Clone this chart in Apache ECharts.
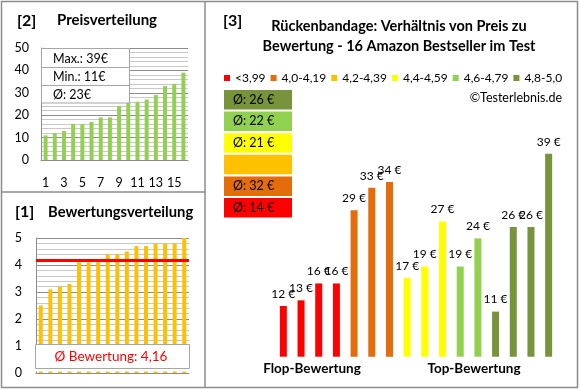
<!DOCTYPE html>
<html><head><meta charset="utf-8">
<script src="https://cdn.jsdelivr.net/npm/echarts@6/dist/echarts.min.js"></script>
<style>html,body{margin:0;padding:0;background:#fff}#c{width:580px;height:390px}</style>
</head><body><div id="c"></div>
<script>
// ---- data ----
const prices  = [12, 13, 16, 16, 29, 33, 34, 17, 19, 27, 19, 24, 11, 26, 26, 39];
const ratings = [2.5, 3.1, 3.2, 3.3, 4.1, 4.1, 4.1, 4.4, 4.4, 4.5, 4.7, 4.7, 4.8, 4.8, 4.8, 5.0];
const groupNames  = ['<3,99', '4,0-4,19', '4,2-4,39', '4,4-4,59', '4,6-4,79', '4,8-5,0'];
const groupLimits = [0, 4.0, 4.2, 4.4, 4.6, 4.8];
const groupColors = ['#FF0000', '#E46C0A', '#FFC000', '#FFFF00', '#92D050', '#77933C'];
const rankLabels  = ['1','2','3','4','5','6','7','8','9','10','11','12','13','14','15','16'];
const priceTicks  = [0, 10, 20, 30, 40, 50];
const ratingTicks = [0, 1, 2, 3, 4, 5];

// ---- derived ----
const FF = 'Lato, "DejaVu Sans", sans-serif';
const sortedPrices = prices.slice().sort((a,b)=>a-b);
const sortedRatings = ratings.slice().sort((a,b)=>a-b);
const groupOf = r => { let g = 0; groupLimits.forEach((l,i)=>{ if (r >= l - 1e-9) g = i; }); return g; };
const groups = ratings.map(groupOf);
const maxP = Math.max(...prices), minP = Math.min(...prices);
const avgP = Math.round(prices.reduce((a,b)=>a+b,0)/prices.length);
const avgR = ratings.reduce((a,b)=>a+b,0)/ratings.length;
const groupAvg = groupNames.map((n,g)=>{ const v = prices.filter((p,i)=>groups[i]===g); return v.length ? Math.round(v.reduce((a,b)=>a+b,0)/v.length) : null; });

const chart = echarts.init(document.getElementById('c'), null, {renderer:'canvas'});

const seriesR = groupNames.map((name,g)=>({
  name, type:'bar', xAxisIndex:2, yAxisIndex:2, stack:'p', barWidth:7,
  itemStyle:{color:groupColors[g]},
  data: prices.map((p,i)=> groups[i]===g ? p : '-'),
  label:{show:true, position:'top', distance:6, formatter:'{c} €', color:'#000', fontSize:12, fontFamily:FF}
}));

const boxEls = [];
const boxX = 224, boxW = 68, boxTop = 90, boxPitch = 21.6, boxH = 19.5;
for (let k = 0; k < groupNames.length; k++) {
  const g = groupNames.length - 1 - k;
  const y = boxTop + k*boxPitch;
  boxEls.push({type:'rect', shape:{x:boxX, y:y, width:boxW, height:boxH}, style:{fill:groupColors[g]}, z:20});
  if (groupAvg[g] !== null) boxEls.push({type:'text', x:boxX+9, y:y+boxH/2, style:{text:'Ø: '+groupAvg[g]+' €', fill:'#000', font:'12.5px '+FF, textVerticalAlign:'middle'}, z:21});
}

const grayLine = '#8c8c8c';
const option = {
  animation:false,
  textStyle:{fontFamily:FF},
  grid:[
    {left:41, top:48, width:147, height:112},
    {left:36, top:238, width:153, height:135},
    {left:274.5, top:120, width:283, height:236.7}
  ],
  legend:{
    data:groupNames, left:224, top:72, width:350, padding:0, itemGap:5, itemWidth:6, itemHeight:6, icon:'rect',
    textStyle:{fontSize:12, color:'#000', fontFamily:FF}
  },
  xAxis:[
    {gridIndex:0, type:'category', data:rankLabels, axisLine:{lineStyle:{color:grayLine}}, axisTick:{show:false},
     axisLabel:{interval:1, margin:16, fontSize:12.5, color:'#000', fontFamily:FF}},
    {gridIndex:1, type:'category', data:rankLabels, axisLine:{lineStyle:{color:grayLine}}, axisTick:{show:false}, axisLabel:{show:false}},
    {gridIndex:2, type:'category', data:rankLabels, show:false}
  ],
  yAxis:[
    {gridIndex:0, type:'value', min:priceTicks[0], max:priceTicks[priceTicks.length-1], interval:priceTicks[1]-priceTicks[0],
     axisLine:{show:true, lineStyle:{color:grayLine}}, axisTick:{show:false},
     axisLabel:{margin:12, fontSize:12.5, color:'#000', fontFamily:FF},
     splitLine:{lineStyle:{color:'#8c8c8c'}}, minorTick:{show:false, splitNumber:5}, minorSplitLine:{show:true, lineStyle:{color:'#c8c8c8'}}},
    {gridIndex:1, type:'value', min:ratingTicks[0], max:ratingTicks[ratingTicks.length-1], interval:ratingTicks[1]-ratingTicks[0],
     axisLine:{show:true, lineStyle:{color:grayLine}}, axisTick:{show:false},
     axisLabel:{margin:14, fontSize:12.5, color:'#000', fontFamily:FF},
     splitLine:{lineStyle:{color:'#8c8c8c'}}, minorTick:{show:false, splitNumber:5}, minorSplitLine:{show:true, lineStyle:{color:'#c8c8c8'}}},
    {gridIndex:2, type:'value', min:3, max:45, show:false, splitLine:{show:false}}
  ],
  series:[
    {type:'bar', xAxisIndex:0, yAxisIndex:0, data:sortedPrices, barWidth:4, itemStyle:{color:'#92D050'}},
    {type:'bar', xAxisIndex:1, yAxisIndex:1, data:sortedRatings, barWidth:4, itemStyle:{color:'#FFC000'},
     markLine:{silent:true, symbol:'none', label:{show:false}, lineStyle:{color:'#FF0000', width:3, type:'solid'}, data:[{yAxis:avgR}]}},
    ...seriesR
  ],
  graphic:{elements:[
    // borders
    {type:'rect', shape:{x:1.5, y:1.5, width:576, height:386}, style:{fill:null, stroke:grayLine, lineWidth:1.5}, z:30},
    {type:'line', shape:{x1:205, y1:1.5, x2:205, y2:387.5}, style:{stroke:grayLine, lineWidth:1.5}, z:30},
    {type:'line', shape:{x1:1.5, y1:192, x2:205, y2:192}, style:{stroke:grayLine, lineWidth:1.5}, z:30},
    // panel 2
    {type:'text', x:17, y:21, style:{text:'[2]', font:'bold 16px '+FF, fill:'#000', textVerticalAlign:'middle'}, z:20},
    {type:'text', x:57, y:20, style:{text:'Preisverteilung', font:'bold 15px '+FF, fill:'#000', textVerticalAlign:'middle'}, z:20},
    {type:'rect', shape:{x:41.5, y:48.5, width:88, height:54.5}, style:{fill:'#fff', stroke:'#a6a6a6', lineWidth:1}, z:20},
    {type:'line', shape:{x1:41.5, y1:67.5, x2:129.5, y2:67.5}, style:{stroke:'#a6a6a6', lineWidth:1}, z:21},
    {type:'line', shape:{x1:41.5, y1:85.5, x2:129.5, y2:85.5}, style:{stroke:'#a6a6a6', lineWidth:1}, z:21},
    {type:'text', x:53, y:59, style:{text:'Max.: '+maxP+'€', font:'12.5px '+FF, fill:'#000', textVerticalAlign:'middle'}, z:22},
    {type:'text', x:53, y:77, style:{text:'Min.: '+minP+'€', font:'12.5px '+FF, fill:'#000', textVerticalAlign:'middle'}, z:22},
    {type:'text', x:53, y:95, style:{text:'Ø: '+avgP+'€', font:'12.5px '+FF, fill:'#000', textVerticalAlign:'middle'}, z:22},
    // panel 1
    {type:'text', x:15, y:212, style:{text:'[1]', font:'bold 16px '+FF, fill:'#000', textVerticalAlign:'middle'}, z:20},
    {type:'text', x:48, y:212, style:{text:'Bewertungsverteilung', font:'bold 14.8px '+FF, fill:'#000', textVerticalAlign:'middle'}, z:20},
    {type:'rect', shape:{x:36, y:344, width:154, height:27.5}, style:{fill:'#fff'}, z:19},
    {type:'rect', shape:{x:35.5, y:344.5, width:154, height:24}, style:{fill:'#fff', stroke:'#a6a6a6', lineWidth:1}, z:20},
    {type:'text', x:111, y:357, style:{text:'Ø Bewertung: '+avgR.toFixed(2).replace('.',','), font:'13.5px '+FF, fill:'#FF0000', textAlign:'center', textVerticalAlign:'middle'}, z:21},
    // panel 3
    {type:'text', x:223, y:21, style:{text:'[3]', font:'bold 16px '+FF, fill:'#000', textVerticalAlign:'middle'}, z:20},
    {type:'text', x:399, y:26, style:{text:'Rückenbandage: Verhältnis von Preis zu', font:'bold 14.5px '+FF, fill:'#000', textAlign:'center', textVerticalAlign:'middle'}, z:20},
    {type:'text', x:399, y:46, style:{text:'Bewertung - 16 Amazon Bestseller im Test', font:'bold 14.5px '+FF, fill:'#000', textAlign:'center', textVerticalAlign:'middle'}, z:20},
    {type:'text', x:562, y:98, style:{text:'©Testerlebnis.de', font:'12.5px '+FF, fill:'#000', textAlign:'right', textVerticalAlign:'middle'}, z:20},
    {type:'text', x:312, y:369, style:{text:'Flop-Bewertung', font:'bold 13.5px '+FF, fill:'#000', textAlign:'center', textVerticalAlign:'middle'}, z:20},
    {type:'text', x:474, y:369, style:{text:'Top-Bewertung', font:'bold 13.5px '+FF, fill:'#000', textAlign:'center', textVerticalAlign:'middle'}, z:20},
    ...boxEls
  ]}
};
chart.setOption(option);
</script></body></html>
